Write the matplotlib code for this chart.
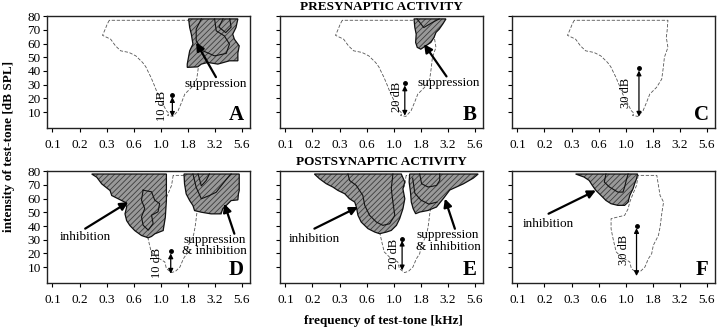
import numpy as np
import matplotlib.pyplot as plt
from matplotlib.patches import Polygon

plt.rcParams['font.family'] = ['Liberation Serif', 'DejaVu Serif']
plt.rcParams['hatch.linewidth'] = 0.6

# axis ticks (x: equally spaced frequency categories)
freq_labels = ['0.1', '0.2', '0.3', '0.6', '1.0', '1.8', '3.2', '5.6']
db_ticks = [10, 20, 30, 40, 50, 60, 70, 80]

# excitatory tuning curve (dashed), presynaptic panels A-C
pre_curve = [(2.1, 77), (2.02, 74), (1.95, 70.5), (1.85, 66), (2.15, 63.2), (2.33, 58.3),
             (2.52, 54.7), (2.83, 53.5), (3.08, 51), (3.33, 46.2), (3.45, 43), (3.52, 40.1),
             (3.64, 35.3), (3.77, 29.2), (3.89, 23.1), (4.05, 17), (4.21, 10.9), (4.31, 9),
             (4.25, 7.5), (4.45, 6.8), (4.64, 10.9), (4.77, 17), (4.89, 23.1), (5.14, 28),
             (5.33, 34), (5.39, 42.6), (5.43, 50), (5.56, 57.2), (5.5, 64.5), (5.53, 69.3),
             (5.56, 77), (2.1, 77)]

# excitatory tuning curve (dashed), postsynaptic panels D-F
post_curve = [(4.46, 77), (4.4, 69.6), (4.27, 63.6), (4.15, 57.5), (4.09, 52.6), (3.96, 47.8),
              (3.71, 46.6), (3.46, 45.4), (3.46, 38), (3.52, 32), (3.59, 25.9), (3.65, 21.1),
              (3.84, 17.4), (4.15, 13.8), (4.21, 8.9), (4.4, 6), (4.55, 7), (4.71, 10.1),
              (4.84, 16.2), (4.96, 19.8), (5.02, 25.9), (5.21, 33.2), (5.27, 39.3), (5.31, 45.4),
              (5.34, 50.2), (5.4, 57.5), (5.27, 62.3), (5.21, 69.6), (5.15, 77), (4.46, 77)]

# shaded areas (outline) and inner contours
supp_A = [(5.03, 78), (5.07, 71.7), (5.13, 66.9), (5.19, 59.6), (5.07, 54.7), (4.98, 45),
          (4.98, 42.6), (5.37, 43), (5.5, 45), (5.74, 46.2), (6.11, 45), (6.54, 47.4),
          (6.85, 47.4), (6.85, 53.1), (6.9, 58.3), (6.72, 63.2), (6.66, 66.9), (6.78, 71.7),
          (6.85, 78)]
contours_A = [[(5.5, 78), (5.31, 70.5), (5.31, 62), (5.56, 54.7), (5.99, 51), (6.42, 52.8),
               (6.54, 59.6), (6.35, 65.6), (6.05, 69.3), (5.99, 78)],
              [(6.3, 78), (6.15, 72), (6.4, 68), (6.6, 72), (6.55, 78)]]

supp_B = [(4.75, 78), (4.78, 71.7), (4.83, 66.9), (4.81, 60.8), (4.87, 57.2), (5.0, 55.9),
          (5.18, 58.3), (5.37, 60.8), (5.49, 64.5), (5.56, 68.1), (5.68, 70.5), (5.81, 74.2),
          (5.93, 78)]
contours_B = [[(4.86, 78), (5.11, 71.7), (5.43, 75.4), (5.68, 78)]]

inh_D = [(1.45, 78), (1.64, 75.6), (1.82, 70.8), (2.13, 65.9), (2.19, 62.3), (2.43, 59.9),
         (2.68, 57.4), (2.74, 53.7), (2.68, 48.9), (2.74, 44), (2.86, 40.4), (3.04, 36.7),
         (3.29, 33.1), (3.54, 31.4), (3.66, 32.4), (3.78, 34.3), (4.09, 36.7), (4.17, 46.4),
         (4.21, 58.6), (4.21, 78)]
mixed_D = [(4.86, 78), (4.88, 70.8), (4.94, 63.5), (5.07, 58.6), (5.19, 55), (5.25, 51.3),
           (5.5, 50.1), (5.86, 48.9), (6.23, 48.9), (6.29, 52.6), (6.48, 56.2), (6.6, 58.6),
           (6.85, 59.1), (6.87, 63.5), (6.9, 65.9), (6.9, 78)]
contours_D = [[(3.35, 66.2), (3.66, 65), (3.78, 58.9), (3.96, 56.4), (3.9, 50.4), (3.66, 47.9),
               (3.72, 41.9), (3.54, 37), (3.35, 40.6), (3.29, 46.7), (3.41, 52.8), (3.29, 58.9),
               (3.35, 66.2)],
              [(5.19, 78), (5.31, 68.3), (5.5, 59.9), (5.8, 62.3), (6.05, 64.7), (6.29, 70.8),
               (6.54, 76.9), (6.6, 78)],
              [(5.38, 78), (5.5, 69.3), (5.68, 73.3), (5.8, 78)]]

inh_E = [(1.07, 78), (1.26, 74.5), (1.51, 70.9), (1.75, 68.5), (1.94, 66), (2.19, 63.6),
         (2.37, 59.9), (2.56, 57.5), (2.62, 53.9), (2.68, 47.8), (2.8, 42.9), (3.05, 38.1),
         (3.3, 35.6), (3.48, 34.4), (3.73, 35.6), (3.91, 36.8), (4.1, 40.5), (4.22, 45.4),
         (4.34, 52.6), (4.41, 59.9), (4.34, 67.2), (4.41, 72.1), (4.28, 78)]
mixed_E = [(4.59, 78), (4.57, 72.1), (4.62, 64.8), (4.65, 57.5), (4.72, 52.6), (4.81, 49),
           (4.96, 50.2), (5.27, 51.4), (5.58, 53.9), (5.83, 60), (6.07, 66.3), (6.57, 70.8),
           (6.94, 75), (7.12, 78)]
contours_E = [[(2.31, 78), (2.37, 73.3), (2.62, 69.6), (2.86, 62.3), (2.93, 55.1), (3.11, 47.8),
               (3.36, 42.9), (3.6, 40.5), (3.85, 41.7), (4.04, 47.8), (3.97, 57.5), (3.91, 67.2),
               (3.97, 78)],
              [(4.96, 78), (5.03, 70.9), (5.27, 68.5), (5.58, 69.6), (5.7, 73.3), (5.7, 78)],
              [(4.7, 75), (4.78, 64), (5.0, 59), (5.3, 56), (5.6, 57.5)]]

inh_F = [(2.15, 78), (2.46, 75.8), (2.65, 73.3), (2.77, 69.6), (2.9, 66), (3.09, 62.3),
         (3.27, 58.7), (3.46, 56.3), (3.71, 55.1), (3.96, 55.1), (4.09, 57.5), (4.15, 62.3),
         (4.27, 67.2), (4.33, 70.9), (4.4, 74.5), (4.44, 78)]
contours_F = [[(3.27, 78), (3.21, 72.1), (3.4, 68.5), (3.71, 64.8), (3.9, 64.8), (3.96, 68.5),
               (4.02, 73.3), (4.09, 78)]]

# double arrows: x, bottom, top
db_arrows = {'A': (4.43, 6.5, 22.4), 'B': (4.41, 7.3, 30.9), 'C': (4.49, 6.6, 41.8),
             'D': (4.37, 5.2, 21.5), 'E': (4.31, 7.6, 30.8), 'F': (4.4, 3.5, 40)}
db_texts = {'A': ('10 dB', 4.03, 14.6), 'B': ('20 dB', 4.12, 20.7), 'C': ('30 dB', 4.02, 24.3),
            'D': ('10 dB', 3.88, 13), 'E': ('20 dB', 4.01, 19.8), 'F': ('30 dB', 3.94, 22.2)}

fig = plt.figure(figsize=(7.2, 3.3), dpi=100)

lefts = [0.0653, 0.3889, 0.7111]
bottoms = [0.612, 0.142]
W, H = 0.282, 0.339


def draw_area(ax, pts):
    pts = np.array(pts)
    ax.add_patch(Polygon(pts, closed=True, facecolor='#999999', edgecolor='none', zorder=2))
    ax.add_patch(Polygon(pts, closed=True, facecolor='none', edgecolor='#3c3c3c', hatch='//////',
                         linewidth=0, zorder=2.1))
    ax.add_patch(Polygon(pts, closed=True, facecolor='none', edgecolor='#111', linewidth=0.9,
                         zorder=2.2))


def draw_lines(ax, lines):
    for ln in lines:
        ln = np.array(ln)
        ax.plot(ln[:, 0], ln[:, 1], color='#111', lw=0.8, zorder=2.3)


def arrow(ax, tail, tip):
    ax.annotate('', xy=tip, xytext=tail,
                arrowprops=dict(arrowstyle='-|>', lw=1.6, color='k', mutation_scale=12,
                                shrinkA=0, shrinkB=0), zorder=4)


axes = {}
for r, row in enumerate(['ABC', 'DEF']):
    for c, name in enumerate(row):
        ax = fig.add_axes([lefts[c], bottoms[r], W, H])
        axes[name] = ax
        ax.set_xlim(-0.2, 7.3)
        ax.set_ylim(-1.7, 80)
        ax.set_xticks(range(8))
        ax.set_xticklabels(freq_labels)
        ax.set_yticks(db_ticks)
        if c == 0:
            ax.set_yticklabels([str(v) for v in db_ticks])
        else:
            ax.set_yticklabels([])
        ax.tick_params(axis='x', direction='out', length=3, width=0.8, labelsize=9.5, pad=5)
        ax.tick_params(axis='y', direction='out', length=3, width=0.8, labelsize=9.5, pad=1.5)
        for sp in ax.spines.values():
            sp.set_linewidth(1.0)
            sp.set_color('#222')
        curve = np.array(pre_curve if r == 0 else post_curve)
        ax.plot(curve[:, 0], curve[:, 1], color='#555', lw=0.6, dashes=(4, 2), zorder=1)
        ax.text(0.968, 0.025, name, transform=ax.transAxes, ha='right', va='bottom',
                fontsize=15, fontweight='bold')
        x, y0, y1 = db_arrows[name]
        ax.annotate('', xy=(x, y1 - 1.5), xytext=(x, y0),
                    arrowprops=dict(arrowstyle='<|-|>', lw=0.9, color='k', mutation_scale=7,
                                    shrinkA=0, shrinkB=0), zorder=4)
        ax.plot([x], [y1], 'o', color='k', ms=2.5, zorder=4)
        t, tx, ty = db_texts[name]
        ax.text(tx, ty, t, rotation=90, ha='center', va='center', fontsize=9)

ax = axes['A']
draw_area(ax, supp_A)
draw_lines(ax, contours_A)
arrow(ax, (6.04, 35.5), (5.31, 60.8))
ax.text(6.05, 30.4, 'suppression', ha='center', va='center', fontsize=9.5)

ax = axes['B']
draw_area(ax, supp_B)
draw_lines(ax, contours_B)
arrow(ax, (5.95, 36), (5.12, 59.6))
ax.text(6.02, 31, 'suppression', ha='center', va='center', fontsize=9.5)

ax = axes['D']
draw_area(ax, inh_D)
draw_area(ax, mixed_D)
draw_lines(ax, contours_D)
arrow(ax, (1.21, 38.1), (2.8, 57.5))
ax.text(1.21, 32, 'inhibition', ha='center', va='center', fontsize=9.5)
arrow(ax, (6.72, 34.4), (6.35, 56.3))
ax.text(5.99, 25.7, 'suppression\n& inhibition', ha='center', va='center', fontsize=9.5,
        linespacing=0.95)

ax = axes['E']
draw_area(ax, inh_E)
draw_area(ax, mixed_E)
draw_lines(ax, contours_E)
arrow(ax, (1.07, 38.1), (2.68, 53.9))
ax.text(1.07, 30.3, 'inhibition', ha='center', va='center', fontsize=9.5)
arrow(ax, (6.26, 38), (5.89, 60))
ax.text(6.01, 29.1, 'suppression\n& inhibition', ha='center', va='center', fontsize=9.5,
        linespacing=0.95)

ax = axes['F']
draw_area(ax, inh_F)
draw_lines(ax, contours_F)
arrow(ax, (1.15, 49), (2.9, 66))
ax.text(1.15, 41.7, 'inhibition', ha='center', va='center', fontsize=9.5)

fig.text(0.529, 0.979, 'PRESYNAPTIC ACTIVITY', ha='center', va='center', fontsize=9.5,
         fontweight='bold')
fig.text(0.529, 0.509, 'POSTSYNAPTIC ACTIVITY', ha='center', va='center', fontsize=9.5,
         fontweight='bold')
fig.text(0.533, 0.027, 'frequency of test-tone [kHz]', ha='center', va='center', fontsize=9.5,
         fontweight='bold')
fig.text(0.012, 0.555, 'intensity of test-tone [dB SPL]', ha='center', va='center',
         rotation=90, fontsize=9.5, fontweight='bold')

fig.savefig('out.png', dpi=100)
